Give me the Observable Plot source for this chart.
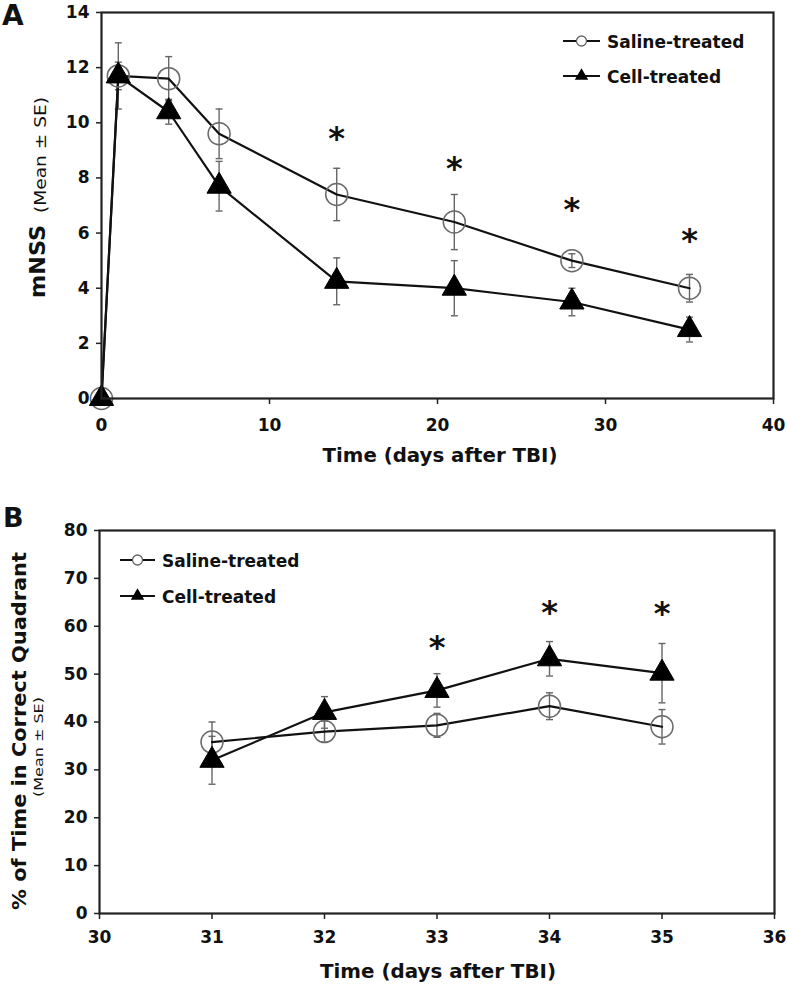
<!DOCTYPE html>
<html><head><meta charset="utf-8">
<script src="https://cdn.jsdelivr.net/npm/d3@7"></script>
<script src="https://cdn.jsdelivr.net/npm/@observablehq/plot@0.6"></script>
<style>
body{margin:0;background:#fff;}
#wrap{position:relative;width:787px;height:989px;overflow:hidden;background:#fff;}
#wrap svg.pl{display:block;overflow:visible;}
#overlay{position:absolute;left:0;top:0;pointer-events:none;}
</style></head><body><div id="wrap"></div>
<script>
// ---------- Panel A data (mNSS) ----------
const daysA = [0, 1, 4, 7, 14, 21, 28, 35];
const salineA = [0, 11.7, 11.6, 9.6, 7.4, 6.4, 5.0, 4.0];
const salineSEA = [0, 1.2, 0.8, 0.9, 0.95, 1.0, 0.25, 0.5];
const cellA = [0, 11.7, 10.4, 7.7, 4.25, 4.0, 3.5, 2.5];
const cellSEA = [0, 0.5, 0.45, 0.9, 0.85, 1.0, 0.5, 0.45];
const starDaysA = [14, 21, 28, 35];
const starPosA = [9.8, 8.7, 7.2, 6.1];
const xTicksA = [0, 10, 20, 30, 40];
const yTicksA = [0, 2, 4, 6, 8, 10, 12, 14];

// ---------- Panel B data (% time in correct quadrant) ----------
const daysB = [31, 32, 33, 34, 35];
const salineB = [35.8, 38.0, 39.3, 43.3, 39.0];
const salineSEB = [4.2, 2.2, 2.5, 2.8, 3.6];
const cellB = [32.0, 42.0, 46.6, 53.2, 50.2];
const cellSEB = [5.0, 3.3, 3.5, 3.6, 6.2];
const starDaysB = [33, 34, 35];
const starPosB = [57.7, 65.0, 64.8];
const xTicksB = [30, 31, 32, 33, 34, 35, 36];
const yTicksB = [0, 10, 20, 30, 40, 50, 60, 70, 80];

const seriesNames = ["Saline-treated", "Cell-treated"];

function rows(days, s, sse, c, cse) {
  const out = [];
  days.forEach((d, i) => {
    out.push({t: d, v: s[i], se: sse[i], g: seriesNames[0]});
    out.push({t: d, v: c[i], se: cse[i], g: seriesNames[1]});
  });
  return out;
}
const capSymbol = {draw(ctx) { ctx.moveTo(-3.5, 0); ctx.lineTo(3.5, 0); }};
const FONT = "'DejaVu Sans', 'Liberation Sans', sans-serif";
const fmt = d => String(d);

function panel(data, stars, opts) {
  const eb = data.filter(d => d.se > 0);
  const sal = data.filter(d => d.g === seriesNames[0]);
  const cel = data.filter(d => d.g === seriesNames[1]);
  return Plot.plot({
    width: 787, height: opts.height,
    marginLeft: opts.ml, marginRight: opts.mr, marginTop: opts.mt, marginBottom: opts.mb,
    style: {fontFamily: FONT, fontWeight: "bold", fontSize: "17px", color: "#111", background: "white", overflow: "visible"},
    x: {domain: opts.xd, ticks: opts.xt, label: null},
    y: {domain: opts.yd, ticks: opts.yt, label: null},
    marks: [
      Plot.axisX({ticks: opts.xt, tickFormat: fmt, tickSize: 6, tickPadding: opts.xpad, label: null, stroke: "#222", strokeWidth: 1.5}),
      Plot.axisY({ticks: opts.yt, tickFormat: fmt, tickSize: 5, tickPadding: 7, label: null, stroke: "#222", strokeWidth: 1.5}),
      Plot.ruleX(eb, {x: "t", y1: d => d.v - d.se, y2: d => d.v + d.se, stroke: "#666", strokeWidth: 1.4}),
      Plot.dot(eb, {x: "t", y: d => d.v + d.se, symbol: capSymbol, r: 3, stroke: "#666", fill: "none", strokeWidth: 1.4}),
      Plot.dot(eb, {x: "t", y: d => d.v - d.se, symbol: capSymbol, r: 3, stroke: "#666", fill: "none", strokeWidth: 1.4}),
      Plot.line(data, {x: "t", y: "v", z: "g", stroke: "#111", strokeWidth: 2.2}),
      Plot.dot(sal, {x: "t", y: "v", r: 11, stroke: "#6a6a6a", strokeWidth: 1.5, fill: "none"}),
      Plot.dot(cel, {x: "t", y: "v", symbol: "triangle", r: 9, fill: "#000", stroke: "#000", strokeWidth: 1}),
      Plot.text(stars, {x: "t", y: "v", text: () => "*", fontSize: 32, fontWeight: "bold", fill: "#111", dy: 10}),
      Plot.frame({stroke: "#222", strokeWidth: 2.2})
    ]
  });
}

const dataA = rows(daysA, salineA, salineSEA, cellA, cellSEA);
const dataB = rows(daysB, salineB, salineSEB, cellB, cellSEB);
const starsA = starDaysA.map((t, i) => ({t, v: starPosA[i]}));
const starsB = starDaysB.map((t, i) => ({t, v: starPosB[i]}));

const wrap = document.getElementById("wrap");
const pA = panel(dataA, starsA, {height: 480, ml: 101, mr: 14, mt: 12, mb: 82, xd: [0, 40], yd: [0, 14], xt: xTicksA, yt: yTicksA, xpad: 14});
const pB = panel(dataB, starsB, {height: 509, ml: 99, mr: 13, mt: 50, mb: 76, xd: [30, 36], yd: [0, 80], xt: xTicksB, yt: yTicksB, xpad: 11});
pA.classList.add("pl"); pB.classList.add("pl");
wrap.appendChild(pA); wrap.appendChild(pB);

// ---------- overlay: panel letters, axis titles, legends ----------
const ov = d3.select(wrap).append("svg").attr("id", "overlay").attr("width", 787).attr("height", 989)
  .style("font-family", FONT);

function txt(x, y, s, size, weight, opt = {}) {
  const t = ov.append("text").attr("x", 0).attr("y", 0).text(s)
    .attr("font-size", size).attr("font-weight", weight).attr("fill", "#111");
  if (opt.rot) t.attr("transform", `translate(${x},${y}) rotate(-90)`).attr("text-anchor", "middle");
  else t.attr("transform", `translate(${x},${y})`).attr("text-anchor", opt.anchor || "start");
  if (opt.len) t.attr("textLength", opt.len).attr("lengthAdjust", "spacingAndGlyphs");
  return t;
}
// panel letters
txt(2, 25, "A", 28, "bold");
txt(3, 527, "B", 27, "bold");
// y titles
txt(45, 261.5, "mNSS", 21, "bold", {rot: true, len: 73});
txt(46, 155, "(Mean ± SE)", 15, "normal", {rot: true, len: 116});
txt(26, 731, "% of Time in Correct Quadrant", 20, "bold", {rot: true, len: 358});
txt(43, 747, "(Mean ± SE)", 12, "normal", {rot: true, len: 100});
// x titles
txt(440, 462, "Time (days after TBI)", 19.5, "bold", {anchor: "middle", len: 235});
txt(438, 978, "Time (days after TBI)", 19.5, "bold", {anchor: "middle", len: 236});

// legends
function legend(x0, x1, yS, yC, tx) {
  const xm = (x0 + x1) / 2;
  [[yS, "circle"], [yC, "triangle"]].forEach(([y, kind], i) => {
    ov.append("line").attr("x1", x0).attr("x2", x1).attr("y1", y).attr("y2", y)
      .attr("stroke", "#111").attr("stroke-width", 1.8);
    if (kind === "circle") {
      ov.append("circle").attr("cx", xm).attr("cy", y).attr("r", 5)
        .attr("fill", "white").attr("stroke", "#666").attr("stroke-width", 1.3);
    } else {
      ov.append("path").attr("d", d3.symbol(d3.symbolTriangle, 78)())
        .attr("transform", `translate(${xm},${y})`).attr("fill", "#000");
    }
    txt(tx, y + 6.5, seriesNames[i], 17, "bold");
  });
}
legend(563, 600, 41, 76, 607);
legend(120, 155, 560, 596, 162);
</script>
</body></html>
